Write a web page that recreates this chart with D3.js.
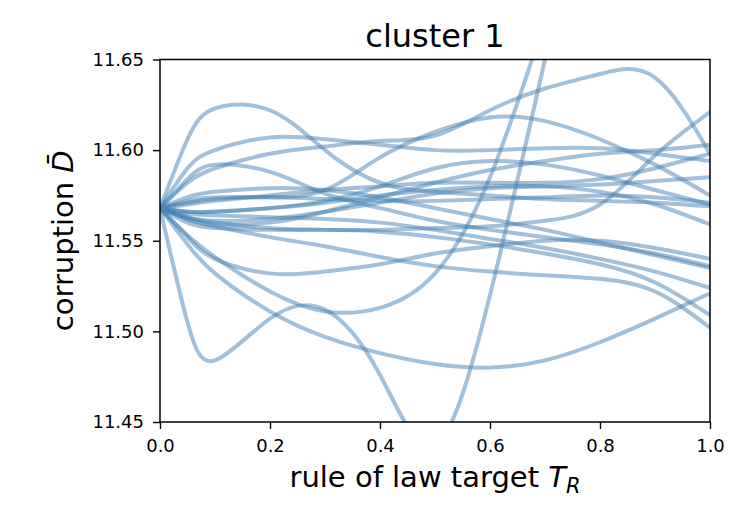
<html>
<head>
<meta charset="utf-8">
<title>cluster 1</title>
<style>
  body { margin: 0; background: #fff; }
  svg text { font-family: 'DejaVu Sans', sans-serif; fill: #000; }
</style>
</head>
<body>
<div id="chart"></div>
<script src="https://cdn.jsdelivr.net/npm/d3@7"></script>
<script>
// x positions shared by every run (rule of law target)
const xs = [0, 0.05, 0.1, 0.2, 0.3, 0.4, 0.5, 0.6, 0.7, 0.8, 0.9, 1.0]

// corruption D-bar per run (null = out of the frame)
const run01 = [11.568, 11.606, 11.623, 11.622, 11.600, 11.582, 11.577, 11.575, 11.573, 11.572, 11.571, 11.569]
const run02 = [11.568, 11.582, 11.590, 11.598, 11.602, 11.605, 11.608, 11.622, 11.634, 11.642, 11.640, 11.598]
const run03 = [11.568, 11.572, 11.574, 11.574, 11.578, 11.596, 11.610, 11.618, 11.616, 11.606, 11.592, 11.575]
const run04 = [11.568, 11.563, 11.560, 11.557, 11.556, 11.556, 11.557, 11.558, 11.561, 11.570, 11.597, 11.621]
const run05 = [11.568, 11.570, 11.572, 11.575, 11.578, 11.580, 11.582, 11.582, 11.582, 11.584, 11.590, 11.598]
const run06 = [11.568, 11.590, 11.600, 11.607, 11.606, 11.603, 11.600, 11.600, 11.601, 11.601, 11.598, 11.594]
const run07 = [11.568, 11.584, 11.592, 11.588, 11.576, 11.568, 11.561, 11.556, 11.552, 11.548, 11.543, 11.536]
const run08 = [11.568, 11.566, 11.566, 11.568, 11.572, 11.580, 11.590, 11.594, 11.592, 11.586, 11.578, 11.570]
const run09 = [11.568, 11.548, 11.532, 11.511, 11.497, 11.488, 11.482, 11.480, 11.484, 11.494, 11.507, 11.521]
const run10 = [11.568, 11.553, 11.541, 11.522, 11.511, 11.513, 11.532, 11.585, 11.672, null, null, null]
const run11 = [11.568, 11.505, 11.484, 11.507, 11.512, 11.476, 11.437, 11.520, 11.650, null, null, null]
const run12 = [11.568, 11.552, 11.540, 11.532, 11.533, 11.537, 11.543, 11.547, 11.550, 11.550, 11.546, 11.540]
const run13 = [11.568, 11.562, 11.558, 11.552, 11.547, 11.541, 11.536, 11.533, 11.531, 11.529, 11.522, 11.502]
const run14 = [11.568, 11.560, 11.557, 11.556, 11.556, 11.555, 11.552, 11.548, 11.543, 11.537, 11.527, 11.509]
const run15 = [11.568, 11.565, 11.564, 11.563, 11.562, 11.560, 11.556, 11.551, 11.546, 11.540, 11.533, 11.524]
const run16 = [11.568, 11.574, 11.577, 11.579, 11.578, 11.574, 11.568, 11.562, 11.556, 11.549, 11.542, 11.535]
const run17 = [11.568, 11.566, 11.566, 11.568, 11.571, 11.575, 11.578, 11.580, 11.580, 11.577, 11.570, 11.559]
const run18 = [11.568, 11.571, 11.573, 11.574, 11.573, 11.572, 11.572, 11.573, 11.574, 11.575, 11.574, 11.571]
const run19 = [11.568, 11.563, 11.561, 11.562, 11.566, 11.571, 11.576, 11.579, 11.580, 11.581, 11.583, 11.585]
const run20 = [11.568, 11.562, 11.559, 11.560, 11.566, 11.574, 11.582, 11.589, 11.594, 11.598, 11.600, 11.603]
const runs = [run01, run02, run03, run04, run05, run06, run07, run08, run09, run10,
  run11, run12, run13, run14, run15, run16, run17, run18, run19, run20]

const xTicks = [0, 0.2, 0.4, 0.6, 0.8, 1.0]
const yTicks = [11.45, 11.50, 11.55, 11.60, 11.65]

const width = 750, height = 525
const m = { left: 160, right: 40, top: 59.5, bottom: 103 }

const svg = d3.select("#chart").append("svg")
  .attr("width", width)
  .attr("height", height)

const x = d3.scaleLinear().domain([0, 1]).range([m.left, width - m.right])
const y = d3.scaleLinear().domain([11.45, 11.65]).range([height - m.bottom, m.top])

svg.append("clipPath").attr("id", "plotclip")
  .append("rect")
  .attr("x", x(0)).attr("y", y(11.65))
  .attr("width", x(1) - x(0)).attr("height", y(11.45) - y(11.65))

const line = d3.line()
  .defined(d => d[1] != null)
  .x(d => x(d[0]))
  .y(d => y(d[1]))
  .curve(d3.curveNatural)

//lines
svg.append("g").attr("clip-path", "url(#plotclip)")
  .selectAll("path").data(runs).join("path")
  .attr("d", d => line(d.map((v, i) => [xs[i], v])))
  .attr("fill", "none")
  .attr("stroke", "#4682b4")
  .attr("stroke-opacity", 0.5)
  .attr("stroke-width", 4)
  .attr("stroke-linecap", "round")

//axes
const xAxis = svg.append("g")
  .attr("transform", `translate(0,${y(11.45)})`)
  .call(d3.axisBottom(x).tickValues(xTicks).tickFormat(d3.format(".1f")).tickSize(7).tickPadding(10))
const yAxis = svg.append("g")
  .attr("transform", `translate(${x(0)},0)`)
  .call(d3.axisLeft(y).tickValues(yTicks).tickFormat(d3.format(".2f")).tickSize(7).tickPadding(9))

for (const a of [xAxis, yAxis]) {
  a.select(".domain").remove()
  a.selectAll("line").attr("stroke", "#000").attr("stroke-width", 1.4)
  a.selectAll("text").attr("font-size", "18px").attr("font-family", "'DejaVu Sans', sans-serif")
}

//frame
svg.append("rect")
  .attr("x", x(0)).attr("y", y(11.65))
  .attr("width", x(1) - x(0)).attr("height", y(11.45) - y(11.65))
  .attr("fill", "none").attr("stroke", "#000").attr("stroke-width", 1.5)

//title and labels
svg.append("text")
  .attr("x", (x(0) + x(1)) / 2).attr("y", 47)
  .attr("text-anchor", "middle")
  .attr("font-size", "32px")
  .text("cluster 1")

const xl = svg.append("text")
  .attr("x", (x(0) + x(1)) / 2).attr("y", 487)
  .attr("text-anchor", "middle")
  .attr("font-size", "29px")
xl.append("tspan").text("rule of law target ")
xl.append("tspan").attr("font-style", "italic").text("T")
xl.append("tspan").attr("font-style", "italic").attr("font-size", "21px").attr("dy", "6").text("R")

const yl = svg.append("text")
  .attr("transform", `translate(73,${(y(11.45) + y(11.65)) / 2}) rotate(-90)`)
  .attr("text-anchor", "middle")
  .attr("font-size", "29px")
yl.append("tspan").text("corruption ")
yl.append("tspan").attr("font-style", "italic").text("D\u0304")
</script>
</body>
</html>
